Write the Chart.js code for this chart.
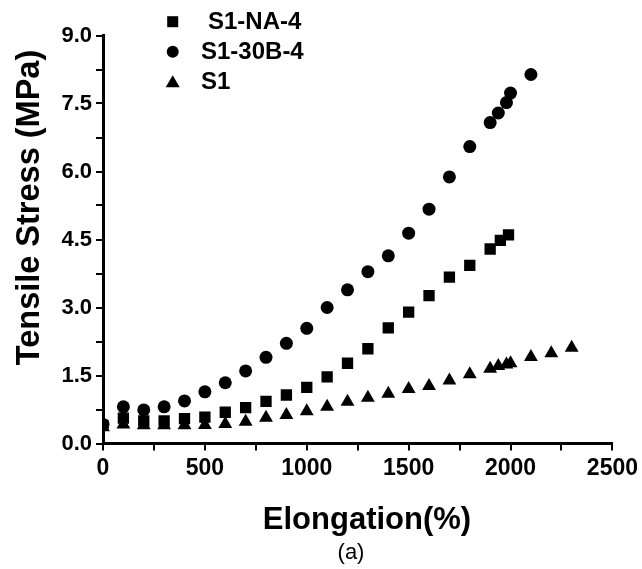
<!DOCTYPE html>
<html>
<head>
<meta charset="utf-8">
<script src="https://cdn.jsdelivr.net/npm/chart.js@4.4.1/dist/chart.umd.min.js"></script>
<style>
html,body{margin:0;padding:0;background:#fff;}
#wrap{width:642px;height:569px;position:relative;}
</style>
</head>
<body>
<div id="wrap"><canvas id="c" width="642" height="569"></canvas></div>
<script>
// ---- data ----
const seriesNames = ['S1-NA-4', 'S1-30B-4', 'S1'];
const xTitle = 'Elongation(%)';
const yTitle = 'Tensile Stress (MPa)';
const panelLabel = '(a)';

const naX = [0,100,200,300,400,500,600,700,800,900,1000,1100,1200,1300,1400,1500,1600,1700,1800,1900,1950,1990];
const naY = [0.40,0.56,0.50,0.50,0.55,0.58,0.69,0.79,0.93,1.07,1.24,1.47,1.77,2.09,2.55,2.90,3.26,3.67,3.93,4.29,4.48,4.60];

const b30X = [0,100,200,300,400,500,600,700,800,900,1000,1100,1200,1300,1400,1500,1600,1700,1800,1900,1940,1980,2000,2100];
const b30Y = [0.42,0.81,0.74,0.81,0.94,1.14,1.34,1.60,1.90,2.21,2.54,3.00,3.39,3.79,4.14,4.64,5.17,5.88,6.55,7.08,7.29,7.52,7.73,8.14];

const s1X = [0,100,200,300,400,500,600,700,800,900,1000,1100,1200,1300,1400,1500,1600,1700,1800,1900,1940,1980,2000,2100,2200,2300];
const s1Y = [0.36,0.42,0.40,0.40,0.40,0.41,0.43,0.48,0.57,0.63,0.71,0.81,0.92,1.01,1.10,1.20,1.27,1.39,1.53,1.65,1.71,1.74,1.77,1.91,1.99,2.11];

const xMin = 0, xMax = 2500, xStep = 250, xLabelStep = 500;
const yMin = 0, yMax = 9, yStep = 0.75, yLabelStep = 1.5;

// ---- build ----
const toPts = (xs, ys) => xs.map((x, i) => ({x: x, y: ys[i]}));
const FONT = '"Liberation Sans", Arial, Helvetica, sans-serif';

const datasets = [
  {label: seriesNames[0], data: toPts(naX, naY), pointStyle: 'rect', pointRadius: 8},
  {label: seriesNames[1], data: toPts(b30X, b30Y), pointStyle: 'circle', pointRadius: 6.5},
  {label: seriesNames[2], data: toPts(s1X, s1Y), pointStyle: 'triangle', pointRadius: 8}
].map(d => Object.assign(d, {
  showLine: false,
  backgroundColor: '#000',
  borderColor: '#000',
  pointBorderWidth: 0,
  pointHoverRadius: d.pointRadius
}));

function isMult(v, step) {
  const r = v / step;
  return Math.abs(r - Math.round(r)) < 1e-6;
}

const decorPlugin = {
  id: 'decor',
  afterDraw(chart) {
    const ctx = chart.ctx;
    ctx.save();
    ctx.fillStyle = '#000';
    // legend
    const legendRows = [21.7, 51.7, 81.7];
    const legendTextX = [208, 201, 201];
    const mx = 172.7;
    chart.data.datasets.forEach((ds, i) => {
      const y = legendRows[i];
      ctx.beginPath();
      if (ds.pointStyle === 'rect') {
        ctx.rect(mx - 5.5, y - 5.5, 11, 11);
      } else if (ds.pointStyle === 'circle') {
        ctx.arc(mx, y, 6, 0, Math.PI * 2);
      } else {
        ctx.moveTo(mx, y - 6.5);
        ctx.lineTo(mx + 7, y + 5.5);
        ctx.lineTo(mx - 7, y + 5.5);
        ctx.closePath();
      }
      ctx.fill();
      ctx.font = 'bold 24px ' + FONT;
      ctx.textAlign = 'left';
      ctx.textBaseline = 'middle';
      ctx.fillText(ds.label, legendTextX[i], y + 1);
    });
    // axis titles
    ctx.font = 'bold 31px ' + FONT;
    ctx.textAlign = 'center';
    ctx.textBaseline = 'alphabetic';
    ctx.fillText(xTitle, 367, 529);
    ctx.save();
    ctx.font = 'bold 32.5px ' + FONT;
    ctx.translate(38.5, 207.5);
    ctx.rotate(-Math.PI / 2);
    ctx.fillText(yTitle, 0, 0);
    ctx.restore();
    // panel label
    ctx.font = '22px ' + FONT;
    ctx.textBaseline = 'middle';
    ctx.fillText(panelLabel, 351, 553);
    ctx.restore();
  }
};

new Chart(document.getElementById('c'), {
  type: 'scatter',
  data: {datasets: datasets},
  options: {
    responsive: false,
    animation: false,
    devicePixelRatio: 1,
    layout: {padding: {left: 0, top: 35.5, right: 29, bottom: 0}},
    plugins: {legend: {display: false}, tooltip: {enabled: false}},
    scales: {
      x: {
        type: 'linear',
        min: xMin, max: xMax,
        afterFit(s) { s.height = 569 - 443.5; },
        border: {display: true, color: '#000', width: 3},
        grid: {display: true, drawOnChartArea: false, drawTicks: true, tickLength: 7, color: '#000', lineWidth: 2},
        ticks: {
          stepSize: xStep, autoSkip: false, maxRotation: 0, color: '#000', padding: 4,
          font: {family: FONT, size: 23, weight: 'bold'},
          callback: v => isMult(v, xLabelStep) ? String(Math.round(v)) : ''
        }
      },
      y: {
        type: 'linear',
        min: yMin, max: yMax,
        afterFit(s) { s.width = 103; },
        border: {display: true, color: '#000', width: 3},
        grid: {display: true, drawOnChartArea: false, drawTicks: true, tickLength: 7, color: '#000', lineWidth: 2},
        ticks: {
          stepSize: yStep, autoSkip: false, color: '#000', padding: 4,
          font: {family: FONT, size: 22, weight: 'bold'},
          callback: v => isMult(v, yLabelStep) ? v.toFixed(1) : ''
        }
      }
    }
  },
  plugins: [decorPlugin]
});
</script>
</body>
</html>
